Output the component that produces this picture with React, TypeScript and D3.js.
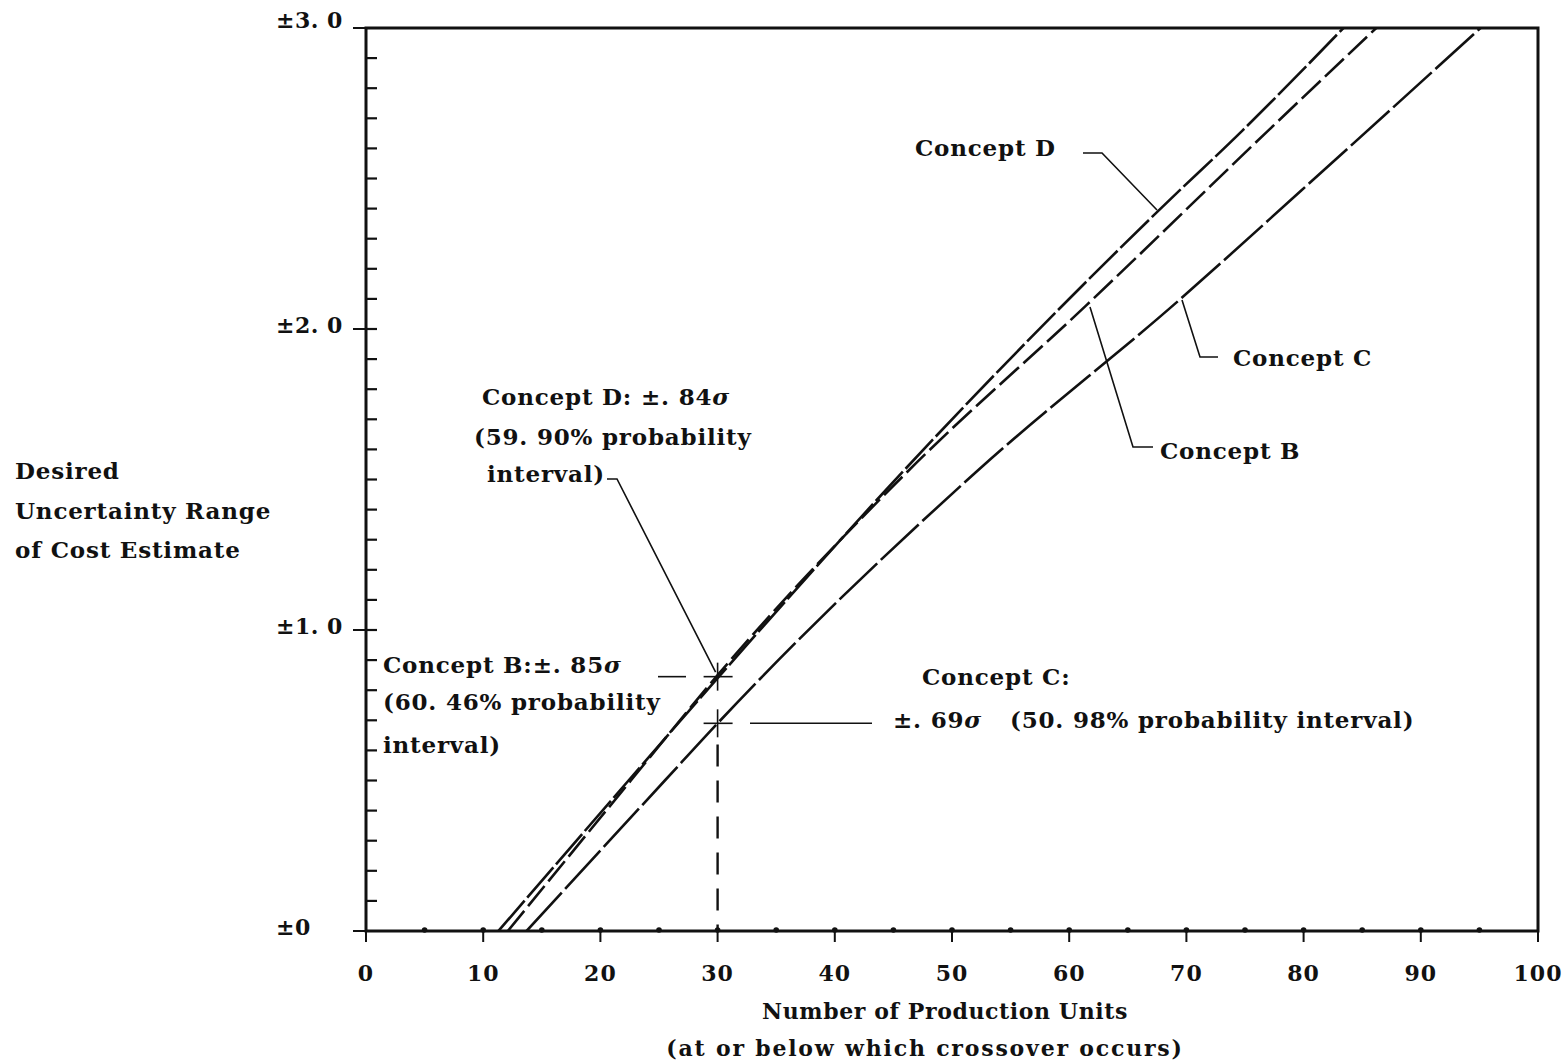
import * as d3 from "d3";

// Series: [production units, uncertainty range (sigma)]
const conceptD: [number, number][] = [[11.3, 0], [22.4, 0.5], [30, 0.84], [45.9, 1.53], [67.8, 2.4], [74.8, 2.66], [83.4, 3.0]];
const conceptB: [number, number][] = [[12.1, 0], [22.6, 0.5], [30, 0.85], [46.3, 1.53], [61.5, 2.08], [77.0, 2.66], [86.2, 3.0]];
const conceptC: [number, number][] = [[13.7, 0], [25.5, 0.5], [30, 0.69], [52.2, 1.53], [69.5, 2.1], [79.8, 2.46], [95.1, 3.0]];

const xTickValues = [0, 10, 20, 30, 40, 50, 60, 70, 80, 90, 100];
const xDotValues = [5, 10, 15, 20, 25, 30, 35, 40, 45, 50, 55, 60, 65, 70, 75, 80, 85, 90, 95];
const yTickValues = [0, 1, 2, 3];
const yTickLabels = ["±0", "±1. 0", "±2. 0", "±3. 0"];
const crossPoints = [{ x: 30, y: 0.845 }, { x: 30, y: 0.69 }];

const W = 1568;
const H = 1064;
const FONT = "'DejaVu Serif', serif";
const INK = "#111";

export default function App() {
    const x = d3.scaleLinear().domain([0, 100]).range([366, 1538]);
    const y = d3.scaleLinear().domain([0, 3]).range([931, 28]);

    const line = d3.line<[number, number]>()
        .x((d) => x(d[0]))
        .y((d) => y(d[1]))
        .curve(d3.curveMonotoneX);

    const minorY = d3.range(1, 30).map((i) => i / 10);

    const series = [
        { data: conceptD, dash: "40 4" },
        { data: conceptB, dash: "26 6" },
        { data: conceptC, dash: "52 5" },
    ];

    const txt = { fontFamily: FONT, fontWeight: 700, fill: INK } as const;
    const note = { ...txt, fontSize: 23, letterSpacing: 0.8 } as const;

    return (
        <svg width={W} height={H} style={{ position: "absolute", left: 0, top: 0, background: "#fff" }}>
            {/* frame */}
            <rect x={x(0)} y={y(3)} width={x(100) - x(0)} height={y(0) - y(3)} fill="none" stroke={INK} strokeWidth={3} />

            {/* y minor ticks (inside) */}
            {minorY.map((v, i) => (
                <line key={`ym-${i}`} x1={x(0)} x2={x(0) + 11} y1={y(v)} y2={y(v)} stroke={INK} strokeWidth={2.2} />
            ))}
            {/* y major ticks (outside) + labels */}
            {yTickValues.map((v, i) => (
                <g key={`yt-${i}`}>
                    <line x1={x(0) - 13} x2={x(0)} y1={y(v)} y2={y(v)} stroke={INK} strokeWidth={2} />
                    <text x={276} y={y(v) + (v === 3 ? 0 : 4)} style={{ ...txt, fontSize: 22, letterSpacing: 0.5 }}>{yTickLabels[i]}</text>
                </g>
            ))}

            {/* x dots & ticks */}
            {xDotValues.map((v, i) => (
                <circle key={`xd-${i}`} cx={x(v)} cy={y(0) - 1} r={2.8} fill={INK} />
            ))}
            {xTickValues.map((v, i) => (
                <g key={`xt-${i}`}>
                    <line x1={x(v)} x2={x(v)} y1={y(0)} y2={y(0) + 11} stroke={INK} strokeWidth={2} />
                    <text x={x(v)} y={y(0) + 50} textAnchor="middle" style={{ ...txt, fontSize: 22, letterSpacing: 1 }}>{v}</text>
                </g>
            ))}

            {/* axis titles */}
            <text x={945} y={1019} textAnchor="middle" style={{ ...txt, fontSize: 22, letterSpacing: 0.6 }}>Number of Production Units</text>
            <text x={925} y={1056} textAnchor="middle" style={{ ...txt, fontSize: 22, letterSpacing: 1.8 }}>(at or below which crossover occurs)</text>
            <text x={15} y={479} style={note}>Desired</text>
            <text x={15} y={519} style={note}>Uncertainty Range</text>
            <text x={15} y={558} style={note}>of Cost Estimate</text>

            {/* curves */}
            <g clipPath="url(#plot)">
                <defs>
                    <clipPath id="plot">
                        <rect x={x(0)} y={y(3)} width={x(100) - x(0)} height={y(0) - y(3)} />
                    </clipPath>
                </defs>
                {series.map((s, i) => (
                    <path key={`s-${i}`} d={line(s.data) ?? ""} fill="none" stroke={INK} strokeWidth={2.6} strokeDasharray={s.dash} />
                ))}
            </g>

            {/* crossover markers */}
            {crossPoints.map((p, i) => (
                <g key={`cp-${i}`}>
                    <line x1={x(p.x) - 14} x2={x(p.x) + 15} y1={y(p.y)} y2={y(p.y)} stroke={INK} strokeWidth={1.6} />
                    <line x1={x(p.x)} x2={x(p.x)} y1={y(p.y) - 14} y2={y(p.y) + 14} stroke={INK} strokeWidth={1.6} />
                </g>
            ))}
            {/* dashed drop line at 30 units */}
            <line x1={x(30)} x2={x(30)} y1={y(0.62)} y2={y(0)} stroke={INK} strokeWidth={2.4} strokeDasharray="22 14" />

            {/* leaders */}
            <g fill="none" stroke={INK} strokeWidth={1.6}>
                <polyline points="1083,153 1102,153 1157,210" />
                <polyline points="1182,300 1200,357 1218,357" />
                <polyline points="1090,307 1133,447 1153,447" />
                <polyline points={`607,479 617,479 ${x(30) - 2},${y(0.86)}`} />
                <line x1={658} x2={686} y1={y(0.845)} y2={y(0.845)} />
                <line x1={750} x2={872} y1={y(0.69)} y2={y(0.69)} />
            </g>

            {/* labels */}
            <text x={915} y={156} style={note}>Concept D</text>
            <text x={1233} y={366} style={note}>Concept C</text>
            <text x={1160} y={459} style={note}>Concept B</text>

            <text x={482} y={405} style={note}>Concept D: ±. 84<tspan fontStyle="italic">σ</tspan></text>
            <text x={474} y={445} style={note}>(59. 90% probability</text>
            <text x={487} y={482} style={note}>interval)</text>

            <text x={383} y={673} style={note}>Concept B:±. 85<tspan fontStyle="italic">σ</tspan></text>
            <text x={383} y={710} style={note}>(60. 46% probability</text>
            <text x={383} y={753} style={note}>interval)</text>

            <text x={922} y={685} style={note}>Concept C:</text>
            <text x={893} y={728} style={note}>±. 69<tspan fontStyle="italic">σ</tspan></text>
            <text x={1010} y={728} style={note}>(50. 98% probability interval)</text>
        </svg>
    );
}
